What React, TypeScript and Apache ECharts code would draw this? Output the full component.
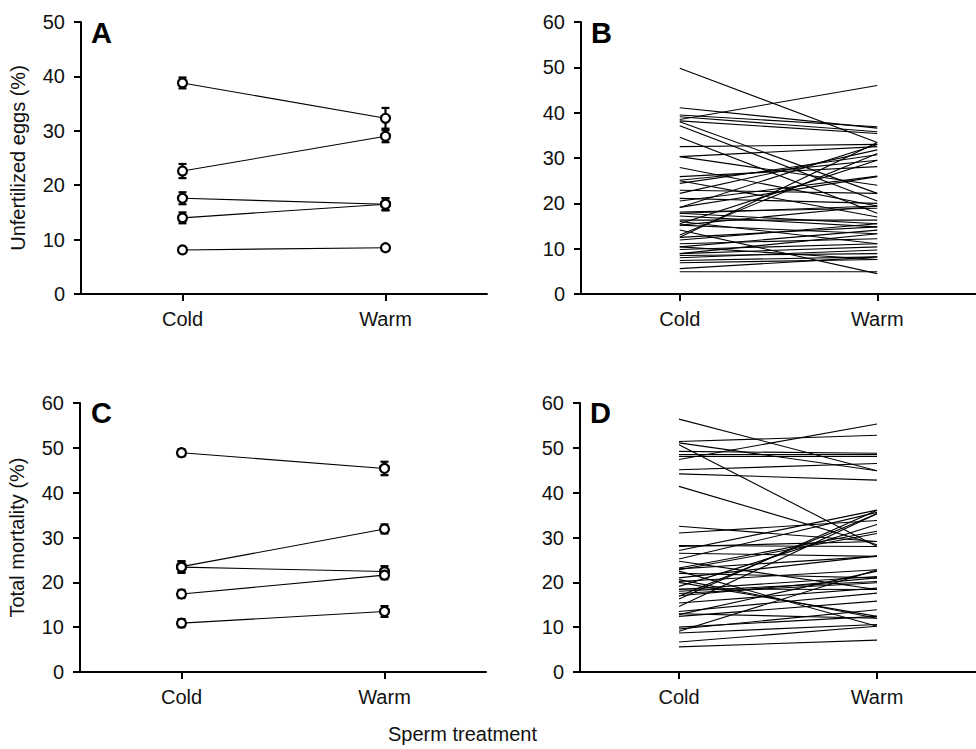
import React, { useEffect, useRef } from "react";
import * as echarts from "echarts";

const categories = ["Cold", "Warm"];

// Panel A: means and SE (unfertilized eggs %)
const aCold = [38.8, 22.6, 17.6, 14.0, 8.1];
const aWarm = [32.3, 29.0, 16.5, 16.5, 8.5];
const aColdErr = [1.0, 1.3, 1.1, 1.0, 0.3];
const aWarmErr = [1.9, 1.1, 1.1, 1.1, 0.4];

// Panel C: means and SE (total mortality %)
const cCold = [48.9, 23.5, 23.4, 17.4, 10.9];
const cWarm = [45.4, 31.9, 22.4, 21.6, 13.5];
const cColdErr = [0.8, 1.2, 1.3, 0.9, 0.9];
const cWarmErr = [1.5, 1.0, 1.2, 0.9, 1.2];

// Panel B: individual pairs (cold, warm)
const bCold = [49.8, 41.1, 39.5, 39.1, 38.5, 38.2, 38.0, 37.1, 34.6, 32.5, 30.3, 30.3, 27.9, 25.9, 25.1, 24.4, 22.9, 22.2, 21.1, 19.1, 19.1, 18.1, 17.8, 17.2, 16.3, 15.5, 15.2, 15.2, 14.1, 12.5, 12.5, 11.9, 11.1, 10.4, 9.8, 8.9, 8.9, 8.5, 8.0, 7.4, 6.9, 5.6, 4.9, 17.8, 13.0, 10.4, 16.0, 20.5, 25.0];
const bWarm = [33.4, 36.6, 36.9, 35.8, 46.0, 35.4, 22.2, 20.5, 17.8, 33.0, 32.5, 24.0, 19.4, 28.1, 29.5, 30.7, 22.2, 31.8, 20.0, 33.0, 25.9, 18.9, 19.4, 14.8, 16.3, 29.5, 19.4, 13.3, 4.5, 33.4, 14.8, 15.5, 12.2, 14.1, 11.1, 10.4, 13.3, 8.9, 9.7, 8.2, 7.6, 8.2, 4.9, 15.5, 31.0, 7.6, 11.1, 26.0, 17.0];

// Panel D: individual pairs (cold, warm)
const dCold = [56.4, 51.4, 51.1, 50.7, 49.2, 48.5, 48.1, 47.4, 45.1, 44.2, 41.4, 32.5, 31.0, 28.2, 27.1, 26.5, 25.2, 24.7, 23.2, 22.8, 22.5, 21.0, 20.6, 20.2, 19.1, 18.4, 18.0, 17.5, 16.9, 16.3, 15.4, 14.6, 13.5, 12.8, 12.4, 10.0, 9.6, 9.1, 8.7, 6.7, 5.6, 22.0, 20.0, 18.5, 23.0, 17.0, 13.0, 28.0];
const dWarm = [44.9, 52.8, 44.9, 28.0, 48.8, 48.5, 48.1, 55.3, 46.5, 42.8, 28.4, 29.1, 33.8, 28.0, 36.1, 25.8, 35.6, 18.4, 31.4, 30.9, 10.2, 25.9, 12.0, 22.8, 32.9, 21.3, 20.2, 19.9, 35.3, 36.1, 18.7, 35.3, 17.6, 22.5, 15.8, 12.4, 13.9, 22.8, 10.6, 10.2, 7.1, 21.0, 12.4, 18.4, 25.8, 21.0, 12.0, 29.1];

const yTicksA = { min: 0, max: 50, interval: 10 };
const yTicksOther = { min: 0, max: 60, interval: 10 };

const FONT = "'Liberation Sans', Arial, Helvetica, sans-serif";

function buildOption() {
  const grids = [
    { left: 81, top: 22, width: 406, height: 272 },
    { left: 581, top: 22, width: 406, height: 272 },
    { left: 80, top: 403, width: 406, height: 269 },
    { left: 580, top: 403, width: 406, height: 269 },
  ];
  const xAxes = grids.map((_, i) => ({
    type: "category",
    gridIndex: i,
    data: categories,
    boundaryGap: true,
    axisLine: { show: true, lineStyle: { color: "#000", width: 2 } },
    axisTick: { show: true, alignWithLabel: true, length: 7, lineStyle: { color: "#000", width: 2 } },
    axisLabel: { color: "#111", fontSize: 20, fontFamily: FONT, margin: 15 },
    splitLine: { show: false },
  }));
  const yNames = ["Unfertilized eggs (%)", "", "Total mortality (%)", ""];
  const yAxes = grids.map((_, i) => {
    const t = i === 0 ? yTicksA : yTicksOther;
    return {
      type: "value",
      gridIndex: i,
      min: t.min,
      max: t.max,
      interval: t.interval,
      name: yNames[i],
      nameLocation: "middle",
      nameGap: 53,
      nameTextStyle: { color: "#111", fontSize: 20, fontFamily: FONT },
      axisLine: { show: true, lineStyle: { color: "#000", width: 2 } },
      axisTick: { show: true, length: 7, lineStyle: { color: "#000", width: 2 } },
      axisLabel: { color: "#111", fontSize: 20, fontFamily: FONT, margin: 16 },
      splitLine: { show: false },
    };
  });

  const series: any[] = [];

  const errRender = (params: any, api: any) => {
    const x = api.value(0);
    const lo = api.coord([x, api.value(1)]);
    const hi = api.coord([x, api.value(2)]);
    const hw = 4;
    const st = { stroke: "#000", lineWidth: 2.2 };
    return {
      type: "group",
      children: [
        { type: "line", shape: { x1: lo[0], y1: lo[1], x2: hi[0], y2: hi[1] }, style: st },
        { type: "line", shape: { x1: lo[0] - hw, y1: lo[1], x2: lo[0] + hw, y2: lo[1] }, style: st },
        { type: "line", shape: { x1: hi[0] - hw, y1: hi[1], x2: hi[0] + hw, y2: hi[1] }, style: st },
      ],
    };
  };

  const addMeans = (idx: number, cold: number[], warm: number[], ce: number[], we: number[]) => {
    const errData: number[][] = [];
    cold.forEach((v, k) => {
      errData.push([0, v - ce[k], v + ce[k]]);
      errData.push([1, warm[k] - we[k], warm[k] + we[k]]);
    });
    series.push({
      type: "custom",
      xAxisIndex: idx,
      yAxisIndex: idx,
      renderItem: errRender,
      data: errData,
      encode: { x: 0, y: [1, 2] },
      z: 2,
      silent: true,
    });
    cold.forEach((v, k) => {
      series.push({
        type: "line",
        xAxisIndex: idx,
        yAxisIndex: idx,
        data: [v, warm[k]],
        symbol: "circle",
        symbolSize: 9,
        showSymbol: true,
        lineStyle: { color: "#000", width: 1.1 },
        itemStyle: { color: "#fff", borderColor: "#000", borderWidth: 2.2 },
        z: 3,
        silent: true,
      });
    });
  };

  const addPairs = (idx: number, cold: number[], warm: number[]) => {
    cold.forEach((v, k) => {
      series.push({
        type: "line",
        xAxisIndex: idx,
        yAxisIndex: idx,
        data: [v, warm[k]],
        symbol: "none",
        lineStyle: { color: "#000", width: 1.1 },
        silent: true,
      });
    });
  };

  addMeans(0, aCold, aWarm, aColdErr, aWarmErr);
  addPairs(1, bCold, bWarm);
  addMeans(2, cCold, cWarm, cColdErr, cWarmErr);
  addPairs(3, dCold, dWarm);

  const letter = (t: string, x: number, y: number) => ({
    type: "text",
    left: x,
    top: y,
    style: { text: t, fill: "#000", font: `bold 29px ${FONT}` },
  });

  return {
    animation: false,
    backgroundColor: "#fff",
    grid: grids,
    xAxis: xAxes,
    yAxis: yAxes,
    series,
    graphic: [
      letter("A", 91, 18),
      letter("B", 591, 18),
      letter("C", 91, 398),
      letter("D", 590, 398),
      {
        type: "text",
        left: 388,
        top: 724,
        style: { text: "Sperm treatment", fill: "#111", font: `20px ${FONT}` },
      },
    ],
  };
}

export default function App() {
  const ref = useRef<HTMLDivElement>(null);
  useEffect(() => {
    if (!ref.current) return;
    const chart = echarts.init(ref.current, undefined, { renderer: "svg" });
    chart.setOption(buildOption() as any);
    return () => chart.dispose();
  }, []);
  return (
    <div
      ref={ref}
      style={{ position: "absolute", left: 0, top: 0, width: 976, height: 749, background: "#fff" }}
    />
  );
}
